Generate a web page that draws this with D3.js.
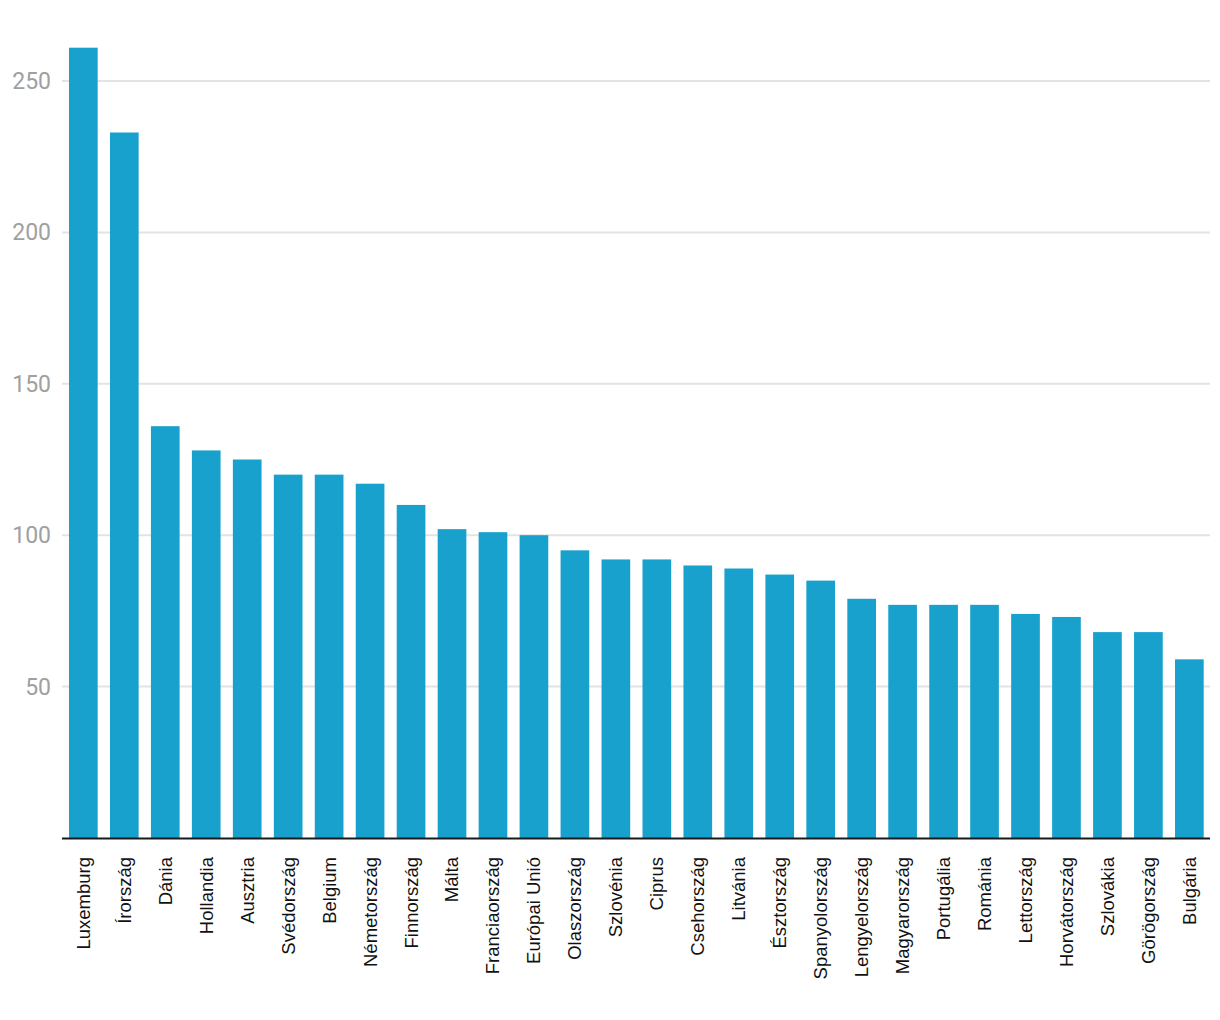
<!DOCTYPE html>
<html><head><meta charset="utf-8">
<script src="https://cdn.jsdelivr.net/npm/d3@7"></script>
<style>body{margin:0;background:#fff}</style>
</head><body>
<script>
const countries = ["Luxemburg","Írország","Dánia","Hollandia","Ausztria","Svédország","Belgium","Németország","Finnország","Málta","Franciaország","Európai Unió","Olaszország","Szlovénia","Ciprus","Csehország","Litvánia","Észtország","Spanyolország","Lengyelország","Magyarország","Portugália","Románia","Lettország","Horvátország","Szlovákia","Görögország","Bulgária"];
const values = [261,233,136,128,125,120,120,117,110,102,101,100,95,92,92,90,89,87,85,79,77,77,77,74,73,68,68,59];
const yTicks = [50,100,150,200,250];

const W = 1220, H = 1020;
const svg = d3.select("body").append("svg").attr("width", W).attr("height", H);
const mLeft = 62, mRight = 1210.7, mBase = 838, mTop = 81;
const x = d3.scaleBand().domain(countries).range([mLeft, mRight]).paddingInner(0.3).paddingOuter(0.171);
const y = d3.scaleLinear().domain([0, 250]).range([mBase, mTop]);

svg.append("g").selectAll("line").data(yTicks).join("line")
  .attr("x1", mLeft).attr("x2", 1210).attr("y1", d => y(d)).attr("y2", d => y(d))
  .attr("stroke", "#e3e3e3").attr("stroke-width", 2);
svg.append("g").selectAll("text").data(yTicks).join("text")
  .attr("x", 51).attr("y", d => y(d)).attr("dy", "0.35em").attr("text-anchor", "end")
  .attr("font-family", "Roboto").attr("font-size", 23).attr("fill", "#a0a0a0").text(d => d);

svg.append("g").selectAll("rect").data(countries).join("rect")
  .attr("x", d => x(d)).attr("width", x.bandwidth())
  .attr("y", (d, i) => y(values[i])).attr("height", (d, i) => mBase - y(values[i]))
  .attr("fill", "#19a1cd");

svg.append("line").attr("x1", mLeft).attr("x2", 1210).attr("y1", mBase + 0.5).attr("y2", mBase + 0.5)
  .attr("stroke", "#1a1a1a").attr("stroke-width", 2);

svg.append("g").selectAll("text").data(countries).join("text")
  .attr("transform", d => `translate(${x(d) + x.bandwidth() / 2},857) rotate(-90)`)
  .attr("dy", "0.35em").attr("text-anchor", "end")
  .attr("font-family", "Liberation Sans, Arial").attr("font-size", 18.5).attr("fill", "#111")
  .text(d => d);
</script>
</body></html>
